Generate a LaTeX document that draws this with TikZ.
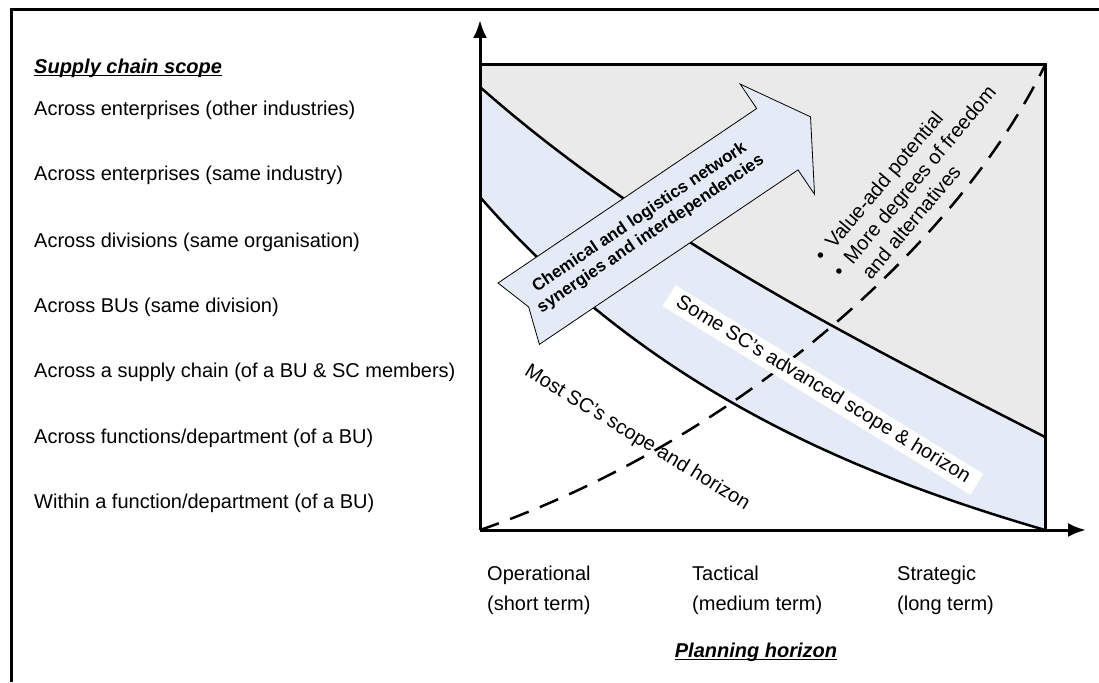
\documentclass[tikz,border=0pt]{standalone}
\usepackage{fontspec}
\setmainfont{Liberation Sans}
\usetikzlibrary{arrows.meta}
\definecolor{areagray}{RGB}{234,234,234}
\definecolor{bandblue}{RGB}{228,235,247}
\newcommand{\ulabel}[1]{\setbox0\hbox{#1}\rlap{\rule[-3pt]{\wd0}{1.6pt}}\box0}

\begin{document}
\begin{tikzpicture}[x=1pt,y=-1pt]
			\tikzset{lbl/.style = {font=\fontsize{20}{23}\selectfont, anchor=west, inner sep=0pt}}
			\tikzset{term/.style = {font=\fontsize{20}{30}\selectfont, anchor=west, align=left, inner sep=0pt}}
			\tikzset{hint/.style = {font=\fontsize{20}{24}\selectfont, inner sep=0pt}}
			\tikzset{axis/.style = {line width=3pt, -{Latex[length=18pt,width=14pt]}}}
			\tikzset{curve/.style = {line width=2.5pt}}
			\useasboundingbox (0,0) rectangle (1099,682);
			% frame
			\draw[line width=3pt] (11,682) -- (11,10) -- (1099,10);
			% corners
			\coordinate (o) at (480,530);
			\coordinate (ytip) at (480,20);
			\coordinate (xtip) at (1086,530);
			\coordinate (tl) at (480,65);
			\coordinate (tr) at (1045,65);
			\coordinate (br) at (1045,530);
			\coordinate (us) at (480,87);
			\coordinate (ue) at (1045,437);
			\coordinate (ls) at (480,197);
			
			% areas
			\fill[areagray] (tl) -- (tr) -- (ue) .. controls (855,340) and (650,237) .. (us) -- cycle;
			\fill[bandblue] (us) .. controls (650,237) and (855,340) .. (ue) -- (br) .. controls (860,476) and (650,392) .. (ls) -- cycle;
			
			%curves
			\draw[curve] (us) .. controls (650,237) and (855,340) .. (ue);
			\draw[curve] (ls) .. controls (650,392) and (860,476) .. (br);
			\draw[curve, dash pattern=on 20pt off 12pt] (o) .. controls (740,440) and (960,240) .. (tr);
			
			%axes
			\draw[line width=3pt] (tl) -- (tr) -- (br);
			\draw[axis] (o) -- (ytip);
			\draw[axis] (o) -- (xtip);
			
			% big arrow
			\begin{scope}[shift={(498,283)}, rotate=34]
			\draw[fill=bandblue, line width=0.8pt] (0,0) -- (312,0) -- (312,-29.5) -- (352,37) -- (312,103.5) -- (312,74) -- (0,74) -- (12,37) -- cycle;
			\node[font=\bfseries\fontsize{17}{20}\selectfont, align=center, rotate=34, inner sep=0pt] (flow) at (154,35) {Chemical and logistics network\\synergies and interdependencies};
			\end{scope}
			
			% texts in the plot
			\node[hint, fill=white, inner xsep=10pt, inner ysep=3pt, rotate=-31.5] (adv) at (823,390) {Some SC’s advanced scope \& horizon};
			\node[hint, rotate=-31.5] (most) at (637,438) {Most SC’s scope and horizon};
			\node[hint, rotate=50, align=left] (gain) at (914,181) {\textbullet\hspace{10pt}Value-add potential\\\textbullet\hspace{10pt}More degrees of freedom\\\phantom{\textbullet}\hspace{10pt}and alternatives};
			
			% scope labels
			\node[lbl, font=\bfseries\itshape\fontsize{20}{23}\selectfont] (scope) at (34,68) {\ulabel{Supply chain scope}};
			\node[lbl] (other) at (34,110) {Across enterprises (other industries)};
			\node[lbl] (same) at (34,175) {Across enterprises (same industry)};
			\node[lbl] (div) at (34,242) {Across divisions (same organisation)};
			\node[lbl] (bu) at (34,307) {Across BUs (same division)};
			\node[lbl] (chain) at (34,372) {Across a supply chain (of a BU \& SC members)};
			\node[lbl] (func) at (34,438) {Across functions/department (of a BU)};
			\node[lbl] (within) at (34,503) {Within a function/department (of a BU)};
			
			% horizon labels
			\node[term] (op) at (487,590) {Operational\\(short term)};
			\node[term] (tac) at (692,590) {Tactical\\(medium term)};
			\node[term] (str) at (897,590) {Strategic\\(long term)};
			\node[font=\bfseries\itshape\fontsize{20}{23}\selectfont, inner sep=0pt] (plan) at (756,652) {\ulabel{Planning horizon}};
\end{tikzpicture}
\end{document}
